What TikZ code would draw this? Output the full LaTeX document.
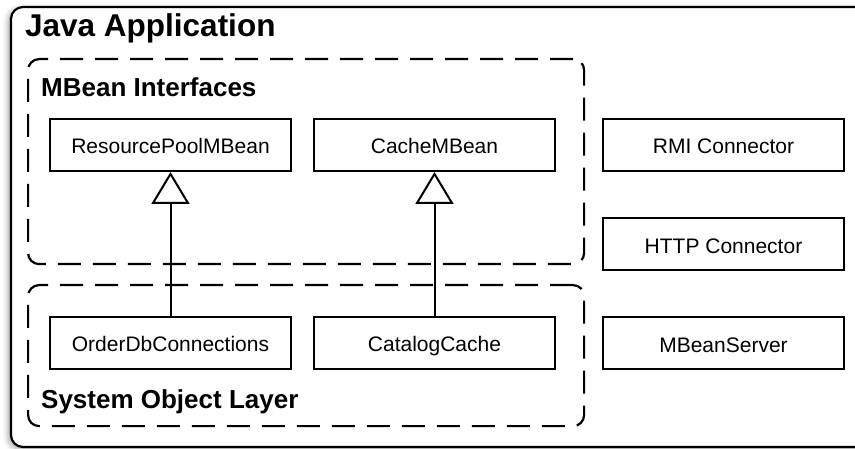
\documentclass[tikz,border=0pt]{standalone}
\usepackage{fontspec}
\setmainfont{Liberation Sans}
\usetikzlibrary{arrows.meta,shadows.blur}
\tikzset{
  cls/.style={draw, line width=2pt, fill=white, minimum width=241pt, minimum height=52pt, inner sep=0pt, text height=18pt, text depth=0pt, font=\fontsize{21}{24}\selectfont},
  layerbox/.style={draw, line width=2.2pt, dash pattern=on 23pt off 12pt, rounded corners=11pt, anchor=north west, inner sep=0pt},
  title/.style={anchor=base west, inner sep=0pt, font=\bfseries\fontsize{26}{30}\selectfont},
  realize/.style={line width=2pt, -{Triangle[open, length=32pt, width=38pt, line width=2pt]}}
}
\begin{document}
\begin{tikzpicture}[x=1pt, y=-1pt]
\useasboundingbox (0,0) rectangle (855,449);
% outer container with shadow
\fill[white, rounded corners=12pt, blur shadow={shadow xshift=-3pt, shadow yshift=-2pt, shadow blur radius=5pt, shadow opacity=35}] (11,7) rectangle (900,447);
\draw[line width=2.2pt, rounded corners=12pt] (870,7) -- (11,7) -- (11,447) -- (870,447);
\node[anchor=base west, inner sep=0pt, font=\bfseries\fontsize{31.5}{36}\selectfont] (app) at (25,37) {Java Application};

% layers
\node[layerbox, minimum width=556pt, minimum height=205pt] (mbi) at (27,58) {};
\node[layerbox, minimum width=556pt, minimum height=141pt] (sol) at (27,284) {};
\node[title] (mbit) at (41,97) {MBean Interfaces};
\node[title] (solt) at (41,408) {System Object Layer};

% classes
\node[cls] (rp) at (170.5,145) {ResourcePoolMBean};
\node[cls] (cm) at (434.5,145) {CacheMBean};
\node[cls] (rmi) at (723.5,145) {RMI Connector};
\node[cls] (http) at (723.5,244.5) {HTTP Connector};
\node[cls] (odb) at (170.5,343) {OrderDbConnections};
\node[cls] (cc) at (434.5,343) {CatalogCache};
\node[cls] (mbs) at (723.5,343.5) {MBeanServer};

% realizations
\draw[realize] (odb.north) -- (rp.south);
\draw[realize] (cc.north) -- (cm.south);
\end{tikzpicture}
\end{document}
